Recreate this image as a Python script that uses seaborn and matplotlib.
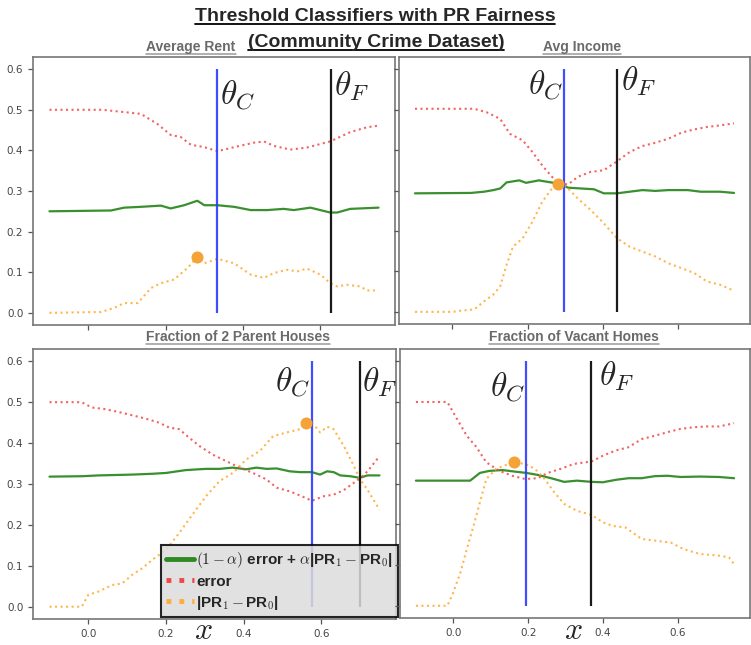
import matplotlib
matplotlib.use("Agg")
import matplotlib.pyplot as plt
from matplotlib.lines import Line2D
import seaborn as sns

# ---------------- data ----------------
# Panel 1: Average Rent
rent_err_x = [-0.1, 0.037, 0.136, 0.179, 0.213, 0.239, 0.265, 0.3, 0.334, 0.377, 0.428, 0.454, 0.48, 0.522, 0.565, 0.625, 0.677, 0.72, 0.75]
rent_err = [0.50, 0.50, 0.49, 0.465, 0.438, 0.433, 0.414, 0.408, 0.398, 0.408, 0.419, 0.422, 0.411, 0.402, 0.407, 0.422, 0.445, 0.457, 0.461]
rent_obj_x = [-0.1, 0.059, 0.093, 0.136, 0.188, 0.213, 0.248, 0.282, 0.3, 0.334, 0.377, 0.42, 0.462, 0.505, 0.531, 0.574, 0.625, 0.643, 0.677, 0.75]
rent_obj = [0.250, 0.252, 0.259, 0.261, 0.264, 0.257, 0.265, 0.276, 0.265, 0.265, 0.261, 0.253, 0.253, 0.256, 0.253, 0.259, 0.247, 0.247, 0.256, 0.259]
rent_gap_x = [-0.1, 0.033, 0.067, 0.093, 0.128, 0.162, 0.188, 0.222, 0.256, 0.282, 0.3, 0.334, 0.377, 0.42, 0.454, 0.48, 0.514, 0.54, 0.565, 0.6, 0.625, 0.643, 0.668, 0.703, 0.72, 0.75]
rent_gap = [0.0, 0.002, 0.012, 0.024, 0.024, 0.061, 0.073, 0.082, 0.110, 0.137, 0.122, 0.133, 0.122, 0.094, 0.086, 0.098, 0.106, 0.102, 0.109, 0.094, 0.073, 0.065, 0.069, 0.065, 0.055, 0.055]
rent_dot = (0.282, 0.138)
rent_theta = (0.334, 0.627)

# Panel 2: Avg Income
inc_err_x = [-0.1, 0.058, 0.092, 0.127, 0.153, 0.187, 0.213, 0.239, 0.265, 0.282, 0.308, 0.334, 0.368, 0.403, 0.438, 0.472, 0.506, 0.54, 0.575, 0.61, 0.644, 0.678, 0.713, 0.75]
inc_err = [0.502, 0.502, 0.493, 0.477, 0.44, 0.424, 0.395, 0.362, 0.334, 0.317, 0.315, 0.334, 0.346, 0.35, 0.372, 0.395, 0.41, 0.418, 0.428, 0.443, 0.451, 0.457, 0.461, 0.466]
inc_obj_x = [-0.1, 0.049, 0.084, 0.109, 0.127, 0.144, 0.178, 0.196, 0.23, 0.256, 0.282, 0.308, 0.342, 0.377, 0.403, 0.438, 0.472, 0.506, 0.54, 0.575, 0.627, 0.661, 0.713, 0.75]
inc_obj = [0.293, 0.294, 0.297, 0.301, 0.305, 0.32, 0.325, 0.319, 0.325, 0.321, 0.317, 0.307, 0.305, 0.303, 0.293, 0.293, 0.297, 0.301, 0.299, 0.301, 0.301, 0.297, 0.297, 0.294]
inc_gap_x = [-0.1, 0.0, 0.023, 0.058, 0.084, 0.109, 0.127, 0.144, 0.161, 0.187, 0.213, 0.239, 0.265, 0.282, 0.308, 0.334, 0.368, 0.403, 0.438, 0.472, 0.506, 0.54, 0.575, 0.61, 0.644, 0.678, 0.713, 0.75]
inc_gap = [0.0, 0.0, 0.003, 0.006, 0.026, 0.043, 0.063, 0.116, 0.161, 0.182, 0.223, 0.272, 0.305, 0.317, 0.305, 0.28, 0.252, 0.219, 0.182, 0.161, 0.149, 0.137, 0.12, 0.108, 0.096, 0.075, 0.067, 0.052]
inc_dot = (0.282, 0.317)
inc_theta = (0.298, 0.438)

# Panel 3: Fraction of 2 Parent Houses
par_err_x = [-0.1, -0.017, 0.009, 0.043, 0.078, 0.113, 0.147, 0.182, 0.208, 0.234, 0.26, 0.286, 0.32, 0.355, 0.39, 0.424, 0.459, 0.485, 0.519, 0.545, 0.576, 0.606, 0.632, 0.658, 0.684, 0.699, 0.719, 0.75]
par_err = [0.5, 0.5, 0.487, 0.483, 0.476, 0.468, 0.46, 0.45, 0.438, 0.434, 0.413, 0.393, 0.372, 0.356, 0.34, 0.327, 0.311, 0.291, 0.282, 0.272, 0.259, 0.27, 0.274, 0.285, 0.303, 0.313, 0.331, 0.368]
par_obj_x = [-0.1, -0.017, 0.026, 0.113, 0.165, 0.2, 0.251, 0.303, 0.338, 0.372, 0.407, 0.433, 0.459, 0.485, 0.519, 0.545, 0.576, 0.597, 0.615, 0.632, 0.649, 0.675, 0.699, 0.719, 0.75]
par_obj = [0.318, 0.319, 0.321, 0.323, 0.325, 0.327, 0.334, 0.337, 0.337, 0.34, 0.336, 0.34, 0.337, 0.338, 0.331, 0.329, 0.329, 0.323, 0.331, 0.329, 0.321, 0.319, 0.315, 0.321, 0.321]
par_gap_x = [-0.1, -0.017, 0.0, 0.026, 0.061, 0.087, 0.113, 0.139, 0.165, 0.2, 0.234, 0.268, 0.303, 0.338, 0.372, 0.407, 0.442, 0.476, 0.511, 0.545, 0.561, 0.58, 0.597, 0.615, 0.632, 0.658, 0.684, 0.699, 0.719, 0.75]
par_gap = [0.0, 0.0, 0.029, 0.037, 0.053, 0.057, 0.078, 0.094, 0.115, 0.139, 0.18, 0.225, 0.27, 0.307, 0.327, 0.36, 0.381, 0.417, 0.426, 0.434, 0.45, 0.446, 0.426, 0.44, 0.434, 0.393, 0.344, 0.313, 0.286, 0.237]
par_dot = (0.561, 0.45)
par_theta = (0.576, 0.699)

# Panel 4: Fraction of Vacant Homes
vac_err_x = [-0.1, -0.016, 0.01, 0.036, 0.062, 0.088, 0.123, 0.157, 0.192, 0.226, 0.252, 0.287, 0.322, 0.369, 0.399, 0.434, 0.468, 0.503, 0.538, 0.572, 0.607, 0.641, 0.676, 0.71, 0.75]
vac_err = [0.5, 0.5, 0.458, 0.417, 0.389, 0.352, 0.331, 0.319, 0.311, 0.313, 0.326, 0.336, 0.348, 0.354, 0.368, 0.381, 0.389, 0.409, 0.417, 0.426, 0.434, 0.438, 0.44, 0.44, 0.448]
vac_obj_x = [-0.1, 0.045, 0.071, 0.097, 0.131, 0.166, 0.195, 0.226, 0.261, 0.296, 0.33, 0.369, 0.399, 0.434, 0.468, 0.503, 0.538, 0.572, 0.607, 0.659, 0.71, 0.75]
vac_obj = [0.307, 0.307, 0.326, 0.331, 0.333, 0.329, 0.326, 0.321, 0.313, 0.304, 0.307, 0.304, 0.303, 0.309, 0.313, 0.313, 0.318, 0.319, 0.316, 0.317, 0.316, 0.313]
vac_gap_x = [-0.1, -0.016, 0.0, 0.019, 0.036, 0.054, 0.071, 0.088, 0.114, 0.14, 0.162, 0.192, 0.218, 0.244, 0.27, 0.296, 0.33, 0.369, 0.399, 0.425, 0.46, 0.503, 0.538, 0.581, 0.615, 0.659, 0.71, 0.736, 0.75]
vac_gap = [0.0, 0.0, 0.033, 0.082, 0.139, 0.196, 0.254, 0.311, 0.336, 0.345, 0.352, 0.348, 0.336, 0.311, 0.278, 0.25, 0.233, 0.223, 0.205, 0.196, 0.192, 0.164, 0.16, 0.155, 0.139, 0.127, 0.123, 0.119, 0.102]
vac_dot = (0.162, 0.352)
vac_theta = (0.195, 0.369)

panel_titles = ["Average Rent", "Avg Income", "Fraction of 2 Parent Houses", "Fraction of Vacant Homes"]
yticks = [0.0, 0.1, 0.2, 0.3, 0.4, 0.5, 0.6]
xticks = [0.0, 0.2, 0.4, 0.6]
legend_labels = [r"$(1-\alpha)$ error + $\alpha$|PR$_1-$PR$_0$|", "error", r"|PR$_1-$PR$_0$|"]

# ---------------- style ----------------
sns.set_style("ticks")
plt.rcParams["font.family"] = ["DejaVu Sans"]
plt.rcParams["mathtext.fontset"] = "cm"

W, H = 751, 645
fig = plt.figure(figsize=(W / 100, H / 100), dpi=100)

def box(l, t, r, b):
    return [l / W, 1 - b / H, (r - l) / W, (b - t) / H]

ax_tl = fig.add_axes(box(33, 57, 395, 325))
ax_tr = fig.add_axes(box(399, 57, 750, 324))
ax_bl = fig.add_axes(box(33, 349, 396, 619))
ax_br = fig.add_axes(box(400, 349, 750, 618))

GREEN = "#2f8a22"
RED = "#f04848"
ORANGE = "#ffae3a"
DOT = "#f5a236"
BLUE = "#2a3cff"

panels = [
    (ax_tl, rent_err_x, rent_err, rent_obj_x, rent_obj, rent_gap_x, rent_gap, rent_dot, rent_theta),
    (ax_tr, inc_err_x, inc_err, inc_obj_x, inc_obj, inc_gap_x, inc_gap, inc_dot, inc_theta),
    (ax_bl, par_err_x, par_err, par_obj_x, par_obj, par_gap_x, par_gap, par_dot, par_theta),
    (ax_br, vac_err_x, vac_err, vac_obj_x, vac_obj, vac_gap_x, vac_gap, vac_dot, vac_theta),
]

# theta label placement: (x, y, ha) for C and F
theta_pos = [
    ((0.340, 0.515, "left"), (0.634, 0.535, "left")),
    ((0.294, 0.540, "right"), (0.450, 0.547, "left")),
    ((0.573, 0.527, "right"), (0.706, 0.527, "left")),
    ((0.192, 0.514, "right"), (0.388, 0.541, "left")),
]

for i, (ax, ex, ey, ox, oy, gx, gy, dot, th) in enumerate(panels):
    sns.lineplot(x=ox, y=oy, ax=ax, color=GREEN, lw=1.6, alpha=0.95)
    sns.lineplot(x=ex, y=ey, ax=ax, color=RED, lw=1.5, linestyle=":", alpha=0.85)
    sns.lineplot(x=gx, y=gy, ax=ax, color=ORANGE, lw=1.5, linestyle=":", alpha=0.9)
    sns.scatterplot(x=[dot[0]], y=[dot[1]], ax=ax, color=DOT, s=75, linewidth=0, zorder=4)
    ax.vlines(th[0], 0, 0.6, colors=BLUE, lw=1.6, alpha=0.9)
    ax.vlines(th[1], 0, 0.6, colors="#1a1a1a", lw=1.6)
    (cx, cy, cha), (fx, fy, fha) = theta_pos[i]
    ax.text(cx, cy, r"$\theta_C$", fontsize=24, ha=cha, va="baseline")
    ax.text(fx, fy, r"$\theta_F$", fontsize=24, ha=fha, va="baseline")

    ax.set_xlim(-0.1425, 0.7925)
    ax.set_ylim(-0.03, 0.63)
    ax.set_xticks(xticks)
    ax.set_yticks(yticks)
    ax.set_xlabel("")
    ax.set_ylabel("")
    ax.tick_params(axis="both", labelsize=7.5, colors="#555555", labelcolor="#444444",
                   length=3.5, width=0.9, direction="out")
    if i in (0, 1):
        ax.set_xticklabels([])
    else:
        ax.set_xticklabels([f"{v:.1f}" for v in xticks])
    if i in (1, 3):
        ax.set_yticklabels([])
    else:
        ax.set_yticklabels([f"{v:.1f}" for v in yticks])
    for sp in ax.spines.values():
        sp.set_visible(True)
        sp.set_color("#777777")
        sp.set_linewidth(1.2)

# legend
handles = [
    Line2D([], [], color=GREEN, lw=3.5),
    Line2D([], [], color=RED, lw=3.5, linestyle=":"),
    Line2D([], [], color=ORANGE, lw=3.5, linestyle=":"),
]
leg = ax_bl.legend(handles, legend_labels, loc="lower right",
                   bbox_to_anchor=(398 / W, 1 - 617 / H), bbox_transform=fig.transFigure,
                   borderaxespad=0, fancybox=False, edgecolor="black", facecolor="#dcdcdc",
                   framealpha=0.85, prop=dict(family="Liberation Sans", weight="bold", size=11),
                   handlelength=1.8, handletextpad=0.15, labelspacing=0.32, borderpad=0.35)
leg.get_frame().set_linewidth(1.5)
leg.set_zorder(10)

# x labels
fig.text(203 / W, 1 - 639 / H, r"$x$", fontsize=23, ha="center", va="baseline")
fig.text(573 / W, 1 - 639 / H, r"$x$", fontsize=23, ha="center", va="baseline")

# titles
TFONT = ["Liberation Sans"]
t1 = fig.text(375 / W, 1 - 21 / H, "Threshold Classifiers with PR Fairness",
              ha="center", va="baseline", fontsize=14, fontweight="bold", family=TFONT)
t2 = fig.text(376 / W, 1 - 47 / H, "(Community Crime Dataset)",
              ha="center", va="baseline", fontsize=14, fontweight="bold", family=TFONT)
sub_pos = [(191, 51), (582, 51), (238, 341), (574, 341)]
subs = []
for name, (px, py) in zip(panel_titles, sub_pos):
    subs.append(fig.text(px / W, 1 - py / H, name, ha="center", va="baseline",
                         fontsize=10, fontweight="bold", color="#6a6a6a", family=TFONT))

fig.canvas.draw()
renderer = fig.canvas.get_renderer()

def underline(t, color, lw, off):
    bb = t.get_window_extent(renderer)
    _, yb = fig.transFigure.transform(t.get_position())
    y = (yb - off) / fig.bbox.height
    fig.add_artist(Line2D([bb.x0 / fig.bbox.width, bb.x1 / fig.bbox.width], [y, y],
                          transform=fig.transFigure, color=color, lw=lw))

underline(t1, "black", 1.3, 3)
underline(t2, "black", 1.3, 3)
for s in subs:
    underline(s, "#9a9a9a", 1.1, 3)

fig.savefig("out.png", dpi=100)
